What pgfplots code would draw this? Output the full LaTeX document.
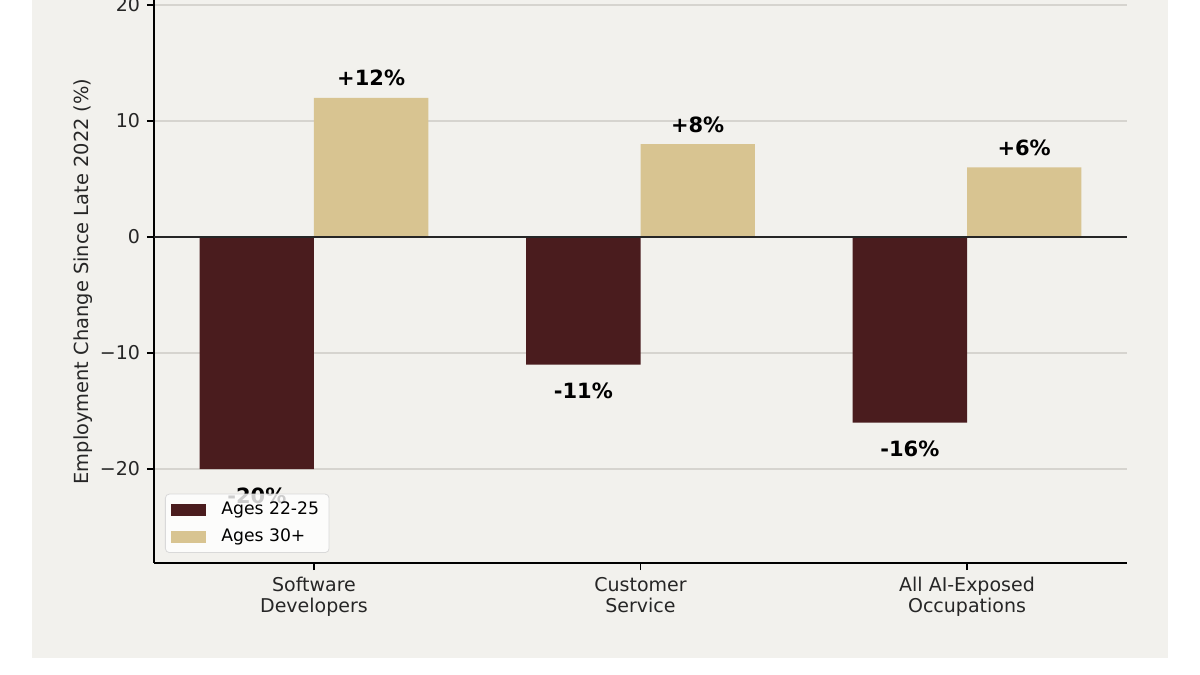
\documentclass[border=0pt]{standalone}
\usepackage{fontspec}
\setmainfont{DejaVu Sans}
\usepackage{pgfplots}
\pgfplotsset{compat=1.18}
\definecolor{panel}{HTML}{F2F1ED}
\definecolor{young}{HTML}{4A1C1E}
\definecolor{older}{HTML}{D8C491}
\definecolor{gridc}{HTML}{D6D4CF}
\definecolor{txt}{HTML}{262626}

\begin{document}
\begin{tikzpicture}[x=1pt,y=1pt]
\fill[white] (0,0) rectangle (600,337.5);
\fill[panel] (16,8.5) rectangle (584,337.5);
\begin{axis}[
  at={(77pt,56pt)}, anchor=south west,
  scale only axis, width=486.5pt, height=281.5pt,
  xmin=-0.49, xmax=2.49, ymin=-28.1, ymax=20.43,
  ybar, bar width=0.35,
  axis x line*=bottom, axis y line*=left,
  axis line style={black, line width=0.75pt},
  xtick={0,1,2},
  xticklabels={{Software\\Developers},{Customer\\Service},{All AI-Exposed\\Occupations}},
  ytick={-20,-10,0,10,20},
  yticklabels={−20,−10,0,10,20},
  tick align=outside, major tick length=3.5pt,
  tick style={black, line width=0.6pt},
  ymajorgrids, major grid style={gridc, line width=0.7pt},
  x tick label style={font=\fontsize{9.5}{10.5}\selectfont, text=txt, align=center},
  y tick label style={font=\fontsize{9.5}{10.5}\selectfont, text=txt},
  ylabel={Employment Change Since Late 2022 (\%)},
  ylabel style={font=\fontsize{9.7}{11}\selectfont, text=txt, yshift=-3pt},
  legend style={at={(0,0)}, anchor=south west, xshift=5.5pt, yshift=5pt,
    fill=white, fill opacity=0.8, text opacity=1, draw=gray!30,
    rounded corners=2pt, font=\fontsize{8.6}{10}\selectfont,
    cells={anchor=west}, row sep=1.5pt},
  legend image code/.code={\fill[#1, sharp corners, fill opacity=1] (0pt,-3pt) rectangle (17.5pt,3pt);
    \path (23pt,0pt);},
  clip=false,
]
\addplot[fill=young, draw=none, bar shift=-0.175,
  point meta=explicit symbolic, nodes near coords,
  every node near coord/.append style={font=\bfseries\fontsize{10.5}{12}\selectfont,
    text=black, anchor=north, yshift=-5.7pt}]
  coordinates {(0,-20) [-20\%] (1,-11) [-11\%] (2,-16) [-16\%]};
\addlegendentry{Ages 22-25}
\addplot[fill=older, draw=none, bar shift=0.175,
  point meta=explicit symbolic, nodes near coords,
  every node near coord/.append style={font=\bfseries\fontsize{10.5}{12}\selectfont,
    text=black, anchor=south, yshift=2.3pt}]
  coordinates {(0,12) [+12\%] (1,8) [+8\%] (2,6) [+6\%]};
\addlegendentry{Ages 30+}
\draw[black!85, line width=0.6pt] ({rel axis cs:0,0}|-{axis cs:0,0}) -- ({rel axis cs:1,0}|-{axis cs:0,0});
\end{axis}
\pgfresetboundingbox
\path[use as bounding box] (0,0) rectangle (600,337.5);
\end{tikzpicture}
\end{document}
